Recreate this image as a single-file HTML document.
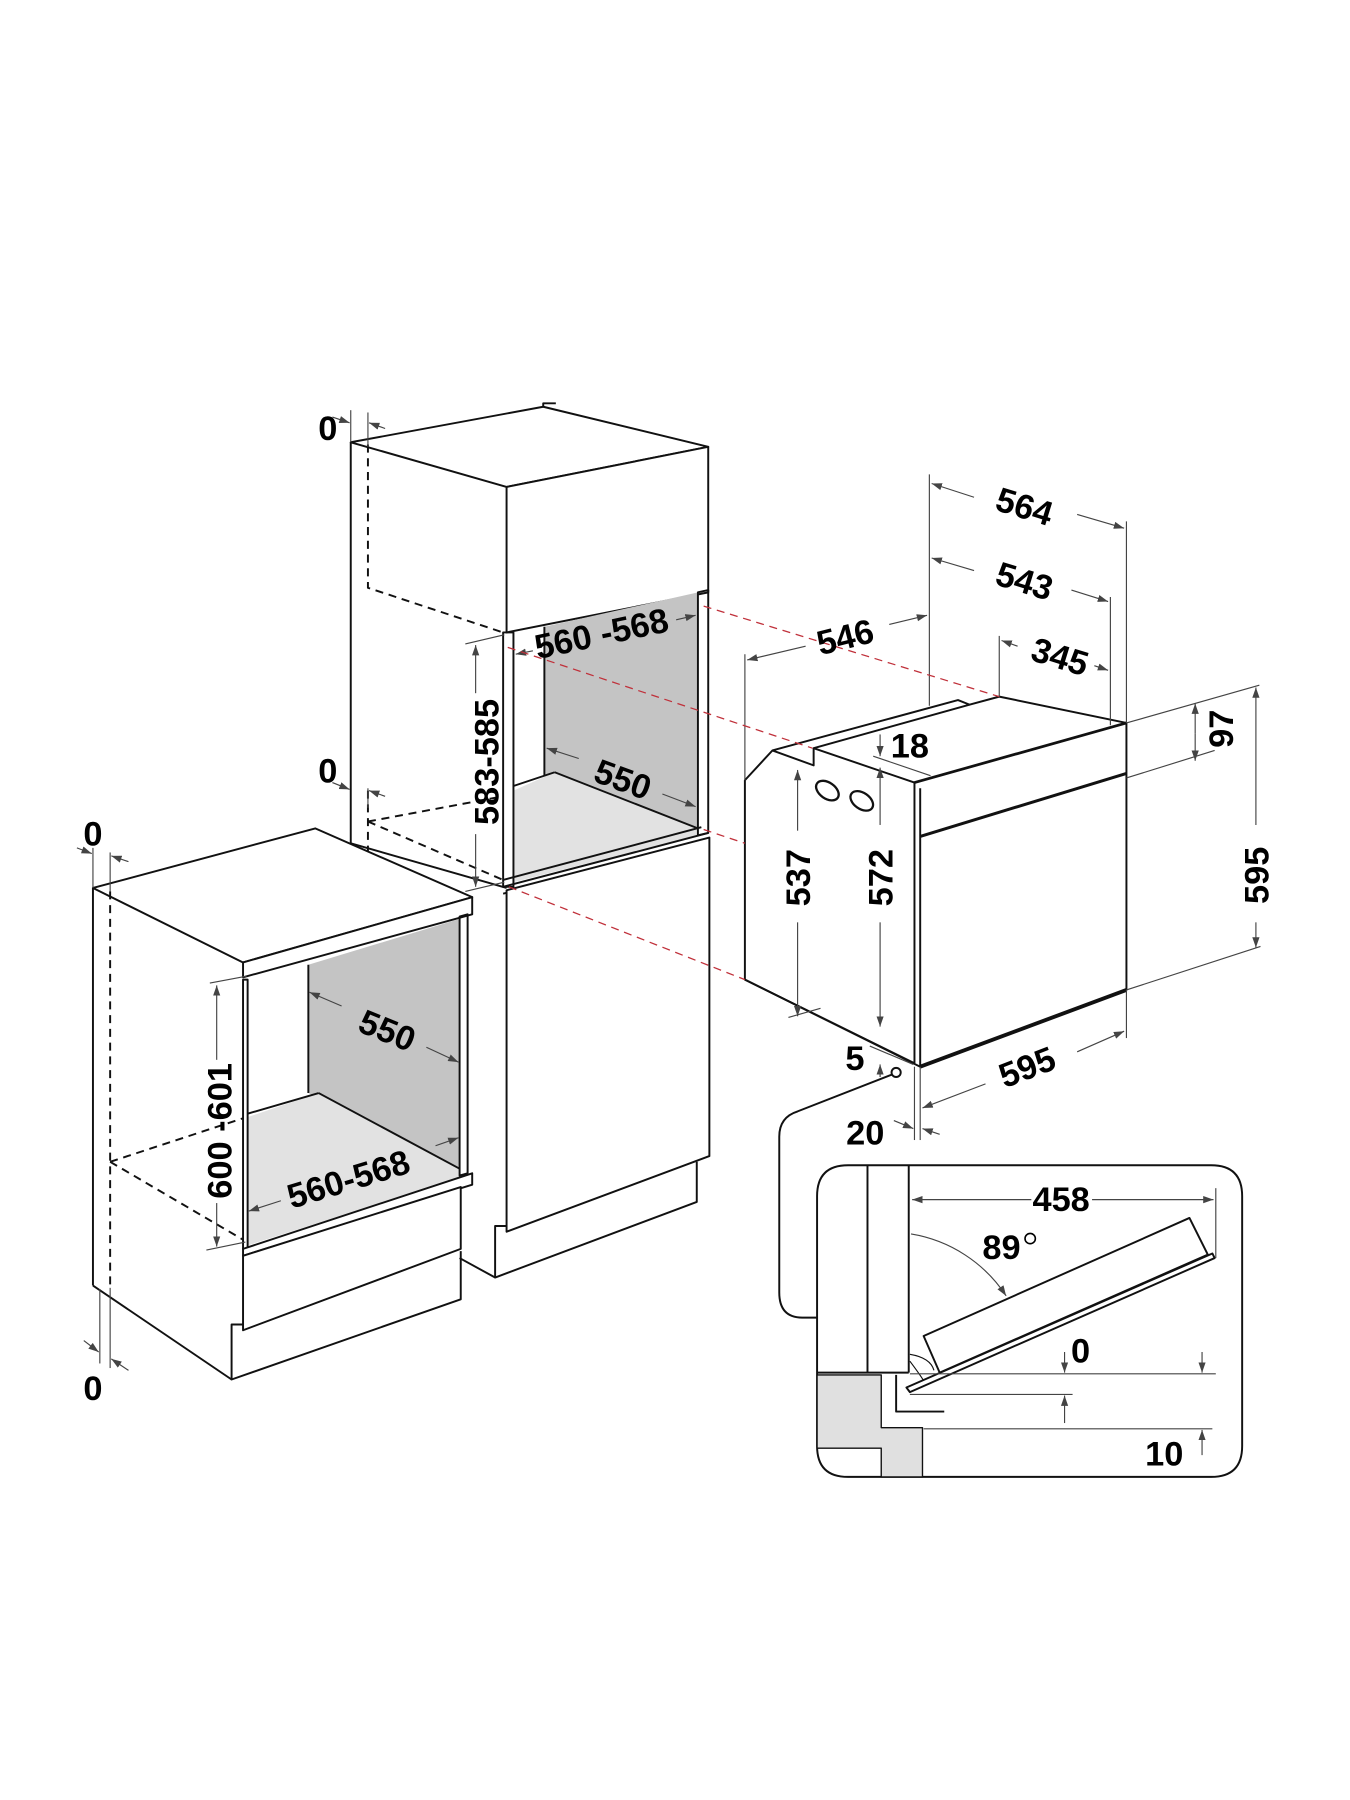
<!DOCTYPE html>
<html><head><meta charset="utf-8"><style>
html,body{margin:0;padding:0;background:#fff}
svg{display:block}
text{font-family:"Liberation Sans",sans-serif;font-weight:bold;fill:#000}
</style></head><body>
<svg width="1350" height="1800" viewBox="0 0 1178 1571" xmlns="http://www.w3.org/2000/svg">
<defs>
<marker id="a" viewBox="0 0 10 10" refX="10" refY="5" markerWidth="9" markerHeight="9" orient="auto-start-reverse" markerUnits="userSpaceOnUse"><path d="M0,1.5 L10,5 L0,8.5z" fill="#444"/></marker>
</defs>
<g fill="none" stroke="#111" stroke-width="1.7" stroke-linejoin="round">
<polygon points="306,386 474,355 618,390 442,425" fill="#fff"/>
<path d="M474,355 L474,352 L485,352"/>
<line x1="306" y1="386" x2="306" y2="736"/>
<polygon points="442,425 618,390 618,517 442,552" fill="#fff"/>
<polygon points="475,547 609,517 609,724 475,677" fill="#c4c4c4" stroke="none"/>
<polygon points="448,690 484,674 609,723 609,729 448,770" fill="#e2e2e2" stroke="none"/>
<line x1="475" y1="547" x2="475" y2="677"/>
<line x1="484" y1="674" x2="448" y2="686"/>
<line x1="484" y1="674" x2="609" y2="723"/>
<polygon points="439,552 448,552 448,774 439,774"/>
<polygon points="609,517 618,515 618,727 609,729"/>
<path d="M439,774 L618,727 M439,768 L612,722 M439,780 L618,733"/>
<polygon points="442,777 619,731 619,1009 442,1075" fill="#fff"/>
<path d="M442,1070 L432,1070 L432,1115 L608,1049 L608,1014"/>
<path d="M432,1115 L401,1098"/>
<path d="M306,736 L442,775"/>
<path d="M321,388 L321,513 L439,552" stroke-dasharray="7,5"/>
<path d="M321,690 L321,760 M321,717 L439,695 M321,717 L439,768" stroke-dasharray="7,5"/>

<polygon points="81,775 275,723 412,783 212,840" fill="#fff"/>
<polygon points="412,783 412,798 212,853 212,840" fill="#fff"/>
<line x1="81" y1="775" x2="81" y2="1122"/>
<polygon points="269,842 401,802 401,1024 269,954" fill="#c4c4c4" stroke="none"/>
<polygon points="216,975 278,954 401,1020 401,1028 216,1087" fill="#e2e2e2" stroke="none"/>
<line x1="269" y1="842" x2="269" y2="954"/>
<line x1="278" y1="954" x2="401" y2="1020"/>
<line x1="278" y1="954" x2="216" y2="972"/>
<polygon points="212,855 216,855 216,1090 212,1090"/>
<polygon points="401,800 408,798 408,1024 401,1026"/>
<polygon points="212,1090 412,1024 412,1034 212,1096" fill="#fff"/>
<polygon points="212,1096 402,1036 402,1090 212,1161" fill="#fff"/>
<path d="M212,1156 L202,1156 L202,1204 L402,1134 L402,1092"/>
<path d="M81,1122 L202,1204"/>
<path d="M96,778 L96,1122" stroke-dasharray="7,5"/>
<path d="M96,1014 L212,976 M96,1014 L212,1082" stroke-dasharray="7,5"/>

<path d="M650,681 L674,655 L836,611 L846,615 L872,608 L983,631 L983,864 L803,931 L650,855 Z" fill="#fff"/>
<path d="M674,655 L710,668 L710,653 L846,615"/>
<path d="M710,653 L798,683"/>
<line x1="798" y1="683" x2="983" y2="631" stroke-width="2.4"/>
<line x1="798" y1="683" x2="798" y2="928"/>
<line x1="803" y1="688" x2="803" y2="931"/>
<line x1="803" y1="730" x2="983" y2="675" stroke-width="2.6"/>
<line x1="803" y1="931" x2="983" y2="864" stroke-width="3.4"/>
<line x1="650" y1="855" x2="798" y2="928"/>
<ellipse cx="722" cy="690" rx="11" ry="7" transform="rotate(35 722 690)" stroke-width="2"/>
<ellipse cx="752" cy="699" rx="11" ry="7" transform="rotate(35 752 699)" stroke-width="2"/>

<path d="M713,1044 Q713,1017 740,1017 L1057,1017 Q1084,1017 1084,1044 L1084,1262 Q1084,1289 1057,1289 L740,1289 Q713,1289 713,1262 Z" fill="#fff"/>
<path d="M713,1150 L700,1150 Q680,1150 680,1128 L680,992 Q680,975 696,970 L778,938"/>
<circle cx="782" cy="936" r="4" fill="#fff"/>
<polygon points="713,1200 769,1200 769,1246 805,1246 805,1289 769,1289 769,1264 713,1264" fill="#e0e0e0" stroke-width="1.2"/>
<line x1="757" y1="1017" x2="757" y2="1198"/>
<line x1="793" y1="1017" x2="793" y2="1198"/>
<line x1="713" y1="1198" x2="793" y2="1198"/>
<path d="M782,1200 L782,1232 L824,1232"/>
<polygon points="806,1166 1038,1063 1054,1095 820,1198" fill="#fff"/>
<polygon points="791,1211 1058,1094 1060,1098 794,1215" fill="#fff"/>
<path d="M794,1182 Q812,1185 815,1196 M794,1188 Q803,1200 806,1205" stroke-width="1"/>
</g>

<g fill="none" stroke="#444" stroke-width="1">
<line x1="794" y1="1199" x2="1061" y2="1199"/>
<line x1="794" y1="1217" x2="936" y2="1217"/>
<line x1="806" y1="1247" x2="1058" y2="1247"/>
<line x1="1061" y1="1037" x2="1061" y2="1098"/>
<line x1="796" y1="1047" x2="900" y2="1047" marker-start="url(#a)"/>
<line x1="953" y1="1047" x2="1059" y2="1047" marker-end="url(#a)"/>
<path d="M795,1077 A123,123 0 0 1 878,1131" marker-end="url(#a)"/>
<line x1="929" y1="1180" x2="929" y2="1198" marker-end="url(#a)"/>
<line x1="929" y1="1242" x2="929" y2="1218" marker-end="url(#a)"/>
<line x1="1049" y1="1180" x2="1049" y2="1198" marker-end="url(#a)"/>
<line x1="1049" y1="1270" x2="1049" y2="1248" marker-end="url(#a)"/>

<line x1="811" y1="414" x2="811" y2="616"/>
<line x1="983" y1="455" x2="983" y2="631"/>
<line x1="983" y1="864" x2="983" y2="906"/>
<line x1="969" y1="521" x2="969" y2="633"/>
<line x1="872" y1="555" x2="872" y2="608"/>
<line x1="650" y1="571" x2="650" y2="681"/>
<line x1="850" y1="434" x2="813" y2="422" marker-end="url(#a)"/>
<line x1="940" y1="449" x2="981" y2="461" marker-end="url(#a)"/>
<line x1="850" y1="498" x2="813" y2="487" marker-end="url(#a)"/>
<line x1="935" y1="515" x2="967" y2="525" marker-end="url(#a)"/>
<line x1="888" y1="564" x2="874" y2="559" marker-end="url(#a)"/>
<line x1="955" y1="581" x2="967" y2="585" marker-end="url(#a)"/>
<line x1="703" y1="564" x2="652" y2="576" marker-end="url(#a)"/>
<line x1="776" y1="545" x2="809" y2="537" marker-end="url(#a)"/>
<line x1="983" y1="631" x2="1099" y2="598"/>
<line x1="983" y1="679" x2="1060" y2="655"/>
<line x1="983" y1="864" x2="1100" y2="826"/>
<line x1="1043" y1="640" x2="1043" y2="614" marker-end="url(#a)"/>
<line x1="1043" y1="640" x2="1043" y2="664" marker-end="url(#a)"/>
<line x1="1096" y1="720" x2="1096" y2="600" marker-end="url(#a)"/>
<line x1="1096" y1="805" x2="1096" y2="827" marker-end="url(#a)"/>
<line x1="768" y1="641" x2="768" y2="660" marker-end="url(#a)"/>
<line x1="762" y1="660" x2="812" y2="677"/>
<line x1="696" y1="725" x2="696" y2="672" marker-end="url(#a)"/>
<line x1="696" y1="805" x2="696" y2="887" marker-end="url(#a)"/>
<line x1="688" y1="888" x2="716" y2="880"/>
<line x1="768" y1="720" x2="768" y2="670" marker-end="url(#a)"/>
<line x1="768" y1="805" x2="768" y2="896" marker-end="url(#a)"/>
<line x1="768" y1="940" x2="768" y2="929" marker-end="url(#a)"/>
<line x1="759" y1="913" x2="797" y2="929"/>
<line x1="798" y1="931" x2="798" y2="995"/>
<line x1="803" y1="931" x2="803" y2="995"/>
<line x1="860" y1="946" x2="805" y2="967" marker-end="url(#a)"/>
<line x1="940" y1="918" x2="981" y2="900" marker-end="url(#a)"/>
<line x1="780" y1="978" x2="797" y2="985" marker-end="url(#a)"/>
<line x1="820" y1="990" x2="805" y2="985" marker-end="url(#a)"/>

<line x1="415" y1="605" x2="415" y2="563" marker-end="url(#a)"/>
<line x1="415" y1="728" x2="415" y2="774" marker-end="url(#a)"/>
<line x1="406" y1="562" x2="440" y2="554"/>
<line x1="406" y1="778" x2="440" y2="770"/>
<line x1="465" y1="568" x2="450" y2="571" marker-end="url(#a)"/>
<line x1="590" y1="541" x2="607" y2="537" marker-end="url(#a)"/>
<line x1="505" y1="662" x2="477" y2="653" marker-end="url(#a)"/>
<line x1="578" y1="693" x2="607" y2="704" marker-end="url(#a)"/>

<line x1="189" y1="925" x2="189" y2="860" marker-end="url(#a)"/>
<line x1="189" y1="1050" x2="189" y2="1088" marker-end="url(#a)"/>
<line x1="183" y1="858" x2="215" y2="852"/>
<line x1="180" y1="1091" x2="214" y2="1084"/>
<line x1="298" y1="878" x2="270" y2="866" marker-end="url(#a)"/>
<line x1="372" y1="914" x2="400" y2="927" marker-end="url(#a)"/>
<line x1="245" y1="1048" x2="217" y2="1057" marker-end="url(#a)"/>
<line x1="380" y1="1000" x2="400" y2="993" marker-end="url(#a)"/>

<line x1="306" y1="358" x2="306" y2="386"/>
<line x1="321" y1="360" x2="321" y2="390"/>
<line x1="290" y1="364" x2="305" y2="369" marker-end="url(#a)"/>
<line x1="336" y1="374" x2="322" y2="369" marker-end="url(#a)"/>
<line x1="321" y1="688" x2="321" y2="705"/>
<line x1="290" y1="683" x2="305" y2="689" marker-end="url(#a)"/>
<line x1="336" y1="695" x2="322" y2="690" marker-end="url(#a)"/>
<line x1="81" y1="740" x2="81" y2="775"/>
<line x1="96" y1="744" x2="96" y2="778"/>
<line x1="67" y1="740" x2="80" y2="745" marker-end="url(#a)"/>
<line x1="112" y1="752" x2="97" y2="747" marker-end="url(#a)"/>
<line x1="87" y1="1125" x2="87" y2="1190"/>
<line x1="96" y1="1124" x2="96" y2="1194"/>
<line x1="73" y1="1170" x2="86" y2="1180" marker-end="url(#a)"/>
<line x1="112" y1="1196" x2="97" y2="1186" marker-end="url(#a)"/>
</g>

<g stroke="#c0303a" stroke-width="1.1" stroke-dasharray="7,5" fill="none">
<line x1="614" y1="529" x2="872" y2="608"/>
<line x1="443" y1="565" x2="709" y2="653"/>
<line x1="614" y1="724" x2="650" y2="736"/>
<line x1="444" y1="774" x2="650" y2="855"/>
</g>

<g font-size="30">
<text x="286" y="384" text-anchor="middle">0</text>
<text x="286" y="683" text-anchor="middle">0</text>
<text x="81" y="738" text-anchor="middle">0</text>
<text x="81" y="1222" text-anchor="middle">0</text>
<text transform="translate(527,563) rotate(-12)" text-anchor="middle">560 -568</text>
<text transform="translate(435,665) rotate(-90)" text-anchor="middle">583-585</text>
<text transform="translate(540,690) rotate(20)" text-anchor="middle">550</text>
<text transform="translate(334,909) rotate(22)" text-anchor="middle">550</text>
<text transform="translate(202,987) rotate(-90)" text-anchor="middle">600 -601</text>
<text transform="translate(307,1039) rotate(-17)" text-anchor="middle">560-568</text>
<text transform="translate(891,452) rotate(17)" text-anchor="middle">564</text>
<text transform="translate(891,517) rotate(17)" text-anchor="middle">543</text>
<text transform="translate(922,583) rotate(17)" text-anchor="middle">345</text>
<text transform="translate(740,566) rotate(-14)" text-anchor="middle">546</text>
<text x="794" y="661" text-anchor="middle">18</text>
<text transform="translate(1076,636) rotate(-90)" text-anchor="middle">97</text>
<text transform="translate(1107,764) rotate(-90)" text-anchor="middle">595</text>
<text transform="translate(707,766) rotate(-90)" text-anchor="middle">537</text>
<text transform="translate(779,766) rotate(-90)" text-anchor="middle">572</text>
<text x="746" y="934" text-anchor="middle">5</text>
<text transform="translate(900,941) rotate(-21)" text-anchor="middle">595</text>
<text x="755" y="999" text-anchor="middle">20</text>
<text x="926" y="1057" text-anchor="middle">458</text>
<text x="874" y="1099" text-anchor="middle">89</text>
<circle cx="899" cy="1081" r="4.5" fill="none" stroke="#000" stroke-width="1.4"/>
<text x="943" y="1189" text-anchor="middle">0</text>
<text x="1016" y="1279" text-anchor="middle">10</text>
</g>
</svg>
</body></html>
